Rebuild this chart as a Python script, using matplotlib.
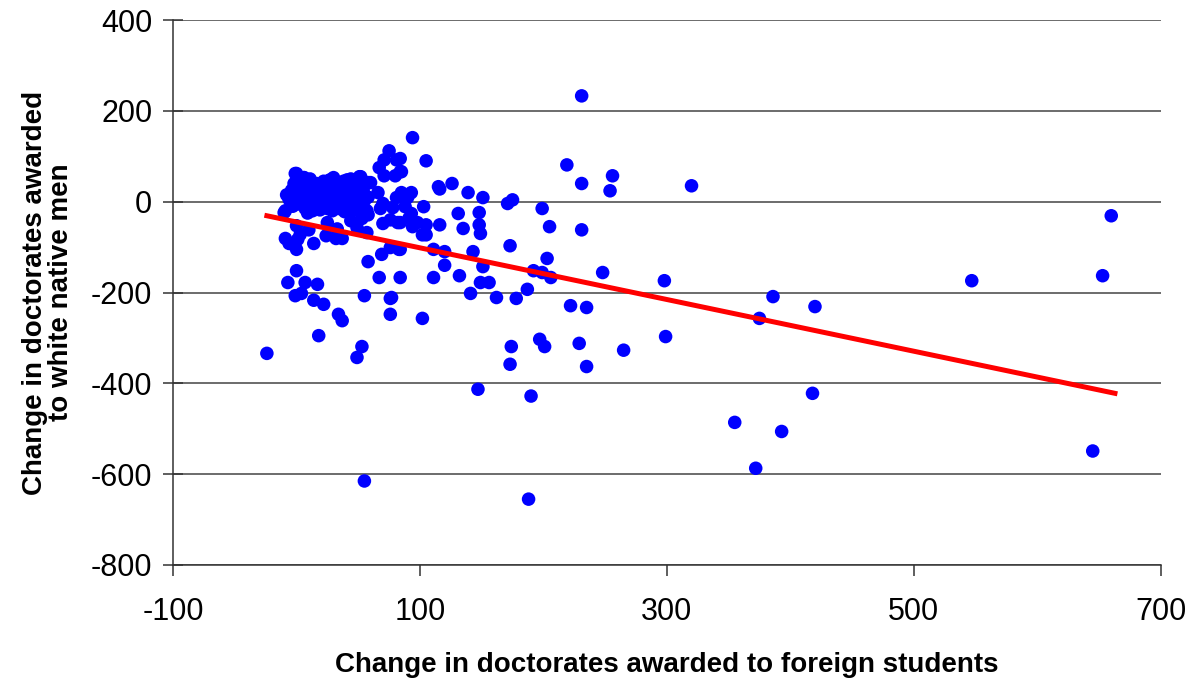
import matplotlib
matplotlib.use("Agg")
import matplotlib.pyplot as plt

# change in doctorates to foreign students (x) / white native men (y)
foreign = [
    -24, 231, 94, 105, 84, 85, 219, 231, 256, 254, 320, 115, 116, 126, 139, 151,
    93, 90, 88, 103, 171, 175, 199, 131, 148, 93, 91, 94, 98, 105, 84, 116, 135,
    148, 149, 102, 105, 205, 231, 84, 111, 120, 143, 173, 203, 120, 151, 192, 199,
    206, 248, 84, 111, 132, 149, 156, 298, 141, 162, 178, 187, 222, 235, 102, 299,
    197, 201, 174, 229, 265, 173, 235, 147, 190, 355, 372, 393, 188, 375, 386, 420,
    418, 547, 645, 653, 660, 55,
    # 60-90 group
    75, 71, 81, 67, 71, 80, 84, 51, 58, 66, 68, 70, 78, 81, 85, -1, 6,
    70, 76, 82, 58, 69, 76, 83, 67, 55, 76, 77, 76, 53, 49,
    34, 37, 18, 22, 14, -1, 4, -7, 7, 17, 0,
    -9, -6, 0, 1, 3, 10, 24, 25, 33, 32, 37, 44, 53, 58, 49, 57, 0, 14,
    # dense cluster near the origin
    -8, -9, -10, -6, -4, -2, 0, 3, 5, 2, 6, 8, 10, 7, 12, 14, 15, 16, 18, 20,
    22, 24, 26, 28, 30, 31, 33, 35, 36, 38, 40, 42, 44, 46, 48, 50, 52, 54, 56,
    58, 60, -3, 1, 4, 9, 11, 13, 19, 21, 25, 27, 29, 32, 34, 37, 39, 41, 43, 45,
    47, 49, 53, 55, 57,
]
white_men = [
    -334, 233, 141, 90, 95, 66, 81, 40, 57, 24, 35, 33, 28, 40, 20, 9,
    20, 9, -11, -11, -4, 4, -15, -26, -24, -26, -37, -55, -46, -51, -46, -51, -59,
    -51, -70, -73, -73, -55, -62, -105, -105, -110, -110, -97, -125, -140, -143, -152, -156,
    -167, -156, -167, -167, -163, -178, -178, -174, -202, -211, -213, -193, -229, -233, -257, -297,
    -303, -319, -319, -312, -327, -358, -363, -413, -428, -486, -587, -506, -655, -257, -209, -231,
    -422, -174, -549, -163, -31, -615,
    112, 92, 92, 75, 57, 57, 66, 55, 42, 20, -15, -4, -13, 9, 20, 62, 53,
    -48, -40, -46, -132, -116, -101, -105, -167, -207, -213, -211, -248, -319, -343,
    -248, -262, -295, -226, -217, -207, -202, -178, -178, -182, -152,
    -81, -92, -105, -83, -72, -62, -75, -46, -60, -81, -81, -42, -37, -29, -57, -68, -53, -92,
    15, -20, -24, 5, 25, 40, 62, 30, 10, -5, 53, 20, 0, -15, 35, 10, -10, 40, 25, 5,
    45, 15, -5, 30, 53, 10, 40, 20, -8, 45, 30, 5, 50, 20, 35, -5, 55, 25, 40,
    10, 42, -10, 15, 45, -25, 50, -20, -18, 30, -15, 48, -20, 22, -15, 8, -22, 48, -12,
    5, -18, 15, -12, 2, -20,
]

# linear trend line, end points
trend_x = [-24, 663]
trend_y = [-31, -422]

plt.rcParams["font.family"] = ["Liberation Sans", "DejaVu Sans"]
plt.rcParams["axes.unicode_minus"] = False

fig = plt.figure(figsize=(11.91, 6.86), dpi=100)
ax = fig.add_axes([0.1453, 0.1764, 0.8292, 0.7944])

ax.scatter(foreign, white_men, s=95, color="#0000FF", edgecolors="none", zorder=3)
ax.plot(trend_x, trend_y, color="#FF0000", lw=3.6, zorder=4)

ax.set_xlim(-100, 700)
ax.set_ylim(-800, 400)
ax.set_xticks(range(-100, 701, 200))
ax.set_yticks(range(-800, 401, 200))
ax.yaxis.grid(True, color="#444444", lw=1.1)
ax.set_axisbelow(True)

for s in ("top", "right"):
    ax.spines[s].set_visible(False)
for s in ("left", "bottom"):
    ax.spines[s].set_color("#333333")
    ax.spines[s].set_linewidth(1.1)

ax.tick_params(axis="x", direction="out", length=8, width=1.1, pad=15,
               labelsize=22, color="#333333")
ax.tick_params(axis="y", direction="inout", length=14, width=1.1, pad=8,
               labelsize=22, color="#333333")

ax.set_xlabel("Change in doctorates awarded to foreign students",
              fontsize=20, fontweight="bold", labelpad=18)
ax.set_ylabel("Change in doctorates awarded\nto white native men",
              fontsize=20, fontweight="bold", labelpad=12, linespacing=1.0)

fig.savefig("out.png", dpi=100)
